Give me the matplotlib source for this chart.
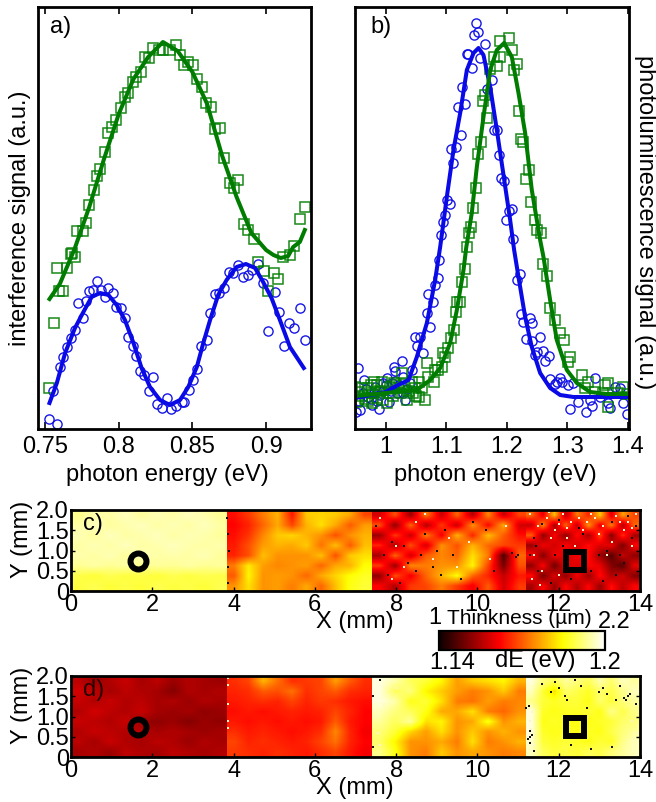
import numpy as np
import matplotlib
matplotlib.use('Agg')
import matplotlib.pyplot as plt
from matplotlib.cm import ScalarMappable
from matplotlib.colors import Normalize

plt.rcParams['font.family'] = ['Liberation Sans', 'DejaVu Sans']
FS = 17

# panel a, green squares
a_sq_x = [.7529,.7584,.7561,.7597,.7624,.7649,.7674,.7681,.7706,.7719,.7755,.7775,.7798,.783,.7852,.7875,.7907,
          .7925,.7957,.7982,.8013,.8043,.8065,.8094,.8116,.815,.8177,.8207,.823,.8275,.8302,.8348,.8388,.8415,
          .8442,.8472,.8501,.8533,.8562,.8592,.8625,.8652,.8686,.8714,.8754,.8781,.881,.8851,.8879,.8919,.8947,
          .8987,.9014,.9055,.9084,.9116,.9161,.9188,.9227,.9263]
a_sq_y = [41,161,106,138,138,161,175,176,172,198,198,206,224,239,253,260,277,296,302,309,321,332,336,347,352,357,
          372,371,381,379,379,379,384,374,364,367,364,350,342,326,322,300,301,271,246,241,249,205,199,190,167,
          158,138,156,150,172,174,183,210,222]
a_green_x = [.753,.76,.77,.78,.79,.80,.81,.82,.83,.84,.85,.86,.87,.88,.89,.90,.905,.91,.915,.9184,.9229,.9263]
a_green_y = [130,145,180,222,270,315,350,372,387,378,357,325,274,232,196,179,174,171,173,182,187,199]

# panel a, blue circles
a_ci_x = [.7529,.7584,.7557,.7602,.7624,.7651,.7679,.7703,.7726,.7758,.7778,.78,.7828,.7853,.788,.7906,.7929,.7961,
          .7984,.8015,.8042,.8063,.8094,.8115,.8146,.8174,.8207,.8234,.8262,.8291,.8325,.8352,.8386,.8427,.8445,
          .8476,.8501,.8533,.8558,.8596,.8619,.8653,.8678,.8714,.875,.8777,.8809,.8845,.8879,.8906,.8947,.898,
          .9014,.9059,.9089,.912,.9157,.9188,.9227,.9263]
a_ci_y = [10,5,38,62,72,82,91,99,126,111,128,138,139,148,139,132,141,136,122,121,111,92,83,73,58,54,38,52,25,21,31,
          20,23,27,27,39,49,60,83,89,116,135,136,141,157,156,164,152,154,159,165,146,98,137,117,83,106,101,121,89]
a_blue_x = [.753,.758,.7636,.7703,.776,.7816,.7873,.793,.7986,.8042,.81,.8155,.8212,.828,.8348,.8416,.8472,.853,
            .8574,.862,.8675,.8732,.88,.8863,.8925,.898,.9037,.9094,.9162,.9256]
a_blue_y = [26,46,76,101,117,132,136,134,124,109,86,61,42,29,24,29,42,62,86,109,134,149,162,165,161,147,131,109,82,61]

# panel b, blue circles
b_ci_x = [1.1488,1.1526,1.1455,1.1636,1.1339,1.1366,1.1559,1.1427,1.1747,1.1267,1.1669,1.131,1.1185,1.124,1.178,
          1.1835,1.1085,1.1163,1.1118,1.1873,1.1906,1.195,1.1008,1.1063,1.0981,1.0937,1.0915,1.2083,1.2028,1.1983,
          1.211,1.0876,1.086,1.0815,1.0705,1.0777,1.0678,1.0733,1.049,1.0568,1.0512,1.0612,1.0264,1.0127,1.0154,
          .9532,.9642,1.0017,1.01,1.043,1.029,.9961,.9824,.9713,.9576,.951,.9769,.989,1.0044,.9906,1.018,1.032,
          1.2165,1.222,1.2237,1.2275,1.2386,1.2413,1.2551,1.232,1.2413,1.2507,1.2468,1.259,1.27,1.2623,1.2716,
          1.2799,1.2882,1.2909,1.2837,1.3008,1.3047,1.3102,1.3185,1.3311,1.3416,1.346,1.3377,1.3543,1.368,1.3791,
          1.3873,1.3928,1.3983,1.3708,
          .955,.962,.968,.975,.98,.985,.995,1.0,1.008,1.015,1.022,1.028,1.035,1.04]
b_ci_y = [406,397,394,385,375,375,371,361,349,342,340,325,322,294,299,299,280,282,266,274,251,248,229,225,214,207,
          194,220,218,209,190,169,151,144,135,127,116,102,92,92,83,76,68,62,58,61,49,51,46,59,52,46,42,32,19,17,24,
          20,27,34,36,29,149,155,115,107,111,106,92,90,88,77,74,78,73,68,50,45,51,47,47,44,20,46,27,17,23,51,29,32,
          26,42,41,26,15,21,
          28,36,40,30,36,28,38,44,38,48,44,36,40,46]
b_blue_x = [.95,1.0,1.02,1.0375,1.0512,1.0678,1.0815,1.0898,1.1008,1.1118,1.1229,1.1339,1.145,1.1532,1.1614,1.1725,
            1.1835,1.195,1.2055,1.2121,1.2193,1.2303,1.2413,1.2551,1.2716,1.2882,1.3102,1.35,1.4]
b_blue_y = [31,37,44,49,72,106,149,182,232,279,316,359,376,381,374,342,299,252,209,179,152,112,82,56,41,34,32,32,32]

# panel b, green squares
b_sq_x = [1.2039,1.1879,1.2088,1.178,1.1884,1.1835,1.2165,1.2121,1.1725,1.1642,1.1598,1.2204,1.1675,1.2231,1.2275,
          1.1565,1.1526,1.2369,1.232,1.1488,1.2397,1.1449,1.2463,1.141,1.2496,1.2557,1.1377,1.1339,1.1311,1.1267,
          1.1218,1.1174,1.1157,1.1119,1.108,1.1025,1.0953,1.098,1.0925,1.0815,1.087,1.0678,1.0788,1.0705,1.065,
          1.0556,1.054,1.0347,1.0264,1.0127,.9796,.9933,.9495,.951,.9604,.9713,.9769,.9851,1.0017,1.0072,1.0209,
          1.043,1.0485,1.0595,1.2606,1.2661,1.2716,1.2799,1.2882,1.2948,1.3047,1.3008,1.324,1.335,1.3295,1.346,
          1.3625,1.368,1.3669,1.3928,1.3994,1.3846,1.3598,
          .955,.965,.975,.98,.99,.995,1.005,1.012,1.017,1.025,1.03,1.038,1.045,1.05,.96,.985,.97]
b_sq_y = [391,388,379,372,372,363,365,359,360,334,328,318,311,290,287,287,275,259,250,241,227,221,209,202,199,196,
          196,182,160,147,127,127,117,99,91,81,76,72,62,59,59,66,47,52,29,32,47,29,56,46,47,47,42,27,41,41,26,31,26,
          42,41,47,41,41,165,153,121,109,96,89,72,67,54,47,41,37,44,46,22,42,35,36,36,
          37,30,44,36,38,29,36,33,44,36,45,38,36,33,33,44,28]
b_green_x = [.95,1.0,1.0512,1.0733,1.0898,1.1063,1.1174,1.1284,1.1328,1.1421,1.1504,1.1614,1.1725,1.1835,1.1956,
             1.2083,1.2193,1.2303,1.2413,1.2551,1.2606,1.2716,1.2826,1.2992,1.3157,1.3377,1.3653,1.4]
b_green_y = [33,36,39,49,61,86,119,159,181,216,262,312,359,379,386,372,336,296,239,189,172,129,89,59,46,37,35,35]

seg_bounds = [0, 3.85, 7.4, 11.2, 14]

# panel c thickness (um), rows from top to bottom
c_seg1 = [[2.06,2.10,2.09,2.12,2.08,2.11,2.09,2.12,2.10,2.07],
          [2.09,2.12,2.08,2.10,2.12,2.09,2.11,2.09,2.12,2.09],
          [2.11,2.08,2.12,2.09,2.10,2.12,2.09,2.11,2.10,2.08],
          [2.09,2.11,2.09,2.12,2.09,2.10,2.12,2.10,2.09,2.10],
          [2.10,2.09,2.11,2.08,2.11,2.09,2.10,2.09,2.11,2.08],
          [2.07,2.09,2.07,2.09,2.06,2.08,2.07,2.09,2.07,2.08],
          [1.98,1.96,1.99,1.97,1.98,1.96,1.99,1.97,1.99,1.98],
          [1.97,1.99,1.96,1.98,1.96,1.99,1.97,1.98,1.96,1.99]]
c_seg2 = [[1.46,1.54,1.66,1.76,1.48,1.80,1.82,1.80,1.74,1.56],
          [1.44,1.50,1.62,1.74,1.56,1.76,1.84,1.74,1.60,1.72],
          [1.46,1.53,1.68,1.80,1.82,1.76,1.70,1.58,1.70,1.76],
          [1.48,1.58,1.72,1.76,1.74,1.80,1.64,1.78,1.60,1.78],
          [1.50,1.58,1.78,1.70,1.70,1.70,1.78,1.58,1.80,1.84],
          [1.66,1.86,1.72,1.68,1.70,1.72,1.62,1.74,1.76,1.90],
          [1.60,1.88,1.70,1.72,1.70,1.62,1.74,1.82,1.90,1.94],
          [1.70,1.84,1.70,1.72,1.66,1.74,1.62,1.78,1.92,1.96]]
c_seg3 = [[1.36,1.58,1.26,1.66,1.34,1.62,1.30,1.68,1.34,1.56],
          [1.58,1.24,1.62,1.30,1.54,1.34,1.70,1.44,1.74,1.36],
          [1.26,1.54,1.34,1.66,1.42,1.76,1.50,1.78,1.60,1.46],
          [1.50,1.30,1.58,1.36,1.70,1.58,1.76,1.62,1.56,1.54],
          [1.28,1.62,1.36,1.60,1.68,1.62,1.84,1.66,1.12,1.62],
          [1.54,1.26,1.68,1.66,1.70,1.70,1.88,1.56,1.20,1.58],
          [1.24,1.58,1.42,1.62,1.76,1.90,1.62,1.50,1.34,1.48],
          [1.44,1.30,1.54,1.56,1.66,1.54,1.42,1.60,1.36,1.54]]
c_seg4 = [[1.62,1.40,1.78,1.32,1.66,1.50,1.80,1.38,1.72,1.56],
          [1.34,1.68,1.28,1.62,1.34,1.70,1.40,1.66,1.30,1.62],
          [1.60,1.24,1.44,1.24,1.46,1.28,1.56,1.22,1.52,1.28],
          [1.26,1.42,1.36,1.44,1.36,1.46,1.38,1.40,1.20,1.44],
          [1.46,1.22,1.42,1.38,1.42,1.46,1.26,1.14,1.34,1.24],
          [1.24,1.44,1.18,1.40,1.38,1.44,1.40,1.22,1.14,1.40],
          [1.46,1.20,1.38,1.24,1.42,1.26,1.46,1.30,1.36,1.22],
          [1.28,1.44,1.26,1.44,1.30,1.44,1.26,1.46,1.32,1.44]]

# panel d band gap (eV), rows from top to bottom
d_seg1 = [[1.156,1.153,1.155,1.157,1.154,1.156,1.153,1.155,1.154,1.153],
          [1.158,1.156,1.154,1.156,1.155,1.154,1.151,1.155,1.154,1.155],
          [1.157,1.155,1.157,1.155,1.156,1.154,1.155,1.153,1.155,1.154],
          [1.155,1.158,1.156,1.155,1.157,1.154,1.153,1.154,1.152,1.153],
          [1.157,1.156,1.155,1.157,1.153,1.152,1.153,1.151,1.153,1.152],
          [1.155,1.157,1.156,1.155,1.156,1.154,1.155,1.154,1.153,1.154],
          [1.156,1.154,1.157,1.155,1.154,1.156,1.155,1.153,1.155,1.154],
          [1.154,1.155,1.153,1.156,1.155,1.154,1.156,1.155,1.154,1.155]]
d_seg2 = [[1.166,1.168,1.178,1.172,1.166,1.167,1.168,1.176,1.170,1.166],
          [1.165,1.166,1.170,1.169,1.172,1.166,1.168,1.170,1.166,1.165],
          [1.164,1.165,1.166,1.165,1.168,1.165,1.167,1.166,1.164,1.163],
          [1.163,1.164,1.163,1.164,1.165,1.164,1.165,1.168,1.165,1.162],
          [1.164,1.163,1.164,1.163,1.164,1.163,1.164,1.170,1.164,1.162],
          [1.166,1.164,1.165,1.164,1.163,1.164,1.166,1.174,1.165,1.161],
          [1.168,1.165,1.166,1.165,1.164,1.165,1.168,1.172,1.165,1.162],
          [1.167,1.166,1.165,1.166,1.165,1.164,1.166,1.168,1.164,1.161]]
d_seg3 = [[1.198,1.195,1.190,1.188,1.184,1.176,1.180,1.182,1.184,1.178],
          [1.198,1.190,1.192,1.184,1.180,1.176,1.173,1.175,1.180,1.173],
          [1.198,1.195,1.186,1.188,1.182,1.173,1.172,1.176,1.173,1.174],
          [1.196,1.192,1.190,1.186,1.177,1.177,1.182,1.173,1.171,1.175],
          [1.194,1.190,1.194,1.182,1.184,1.175,1.177,1.186,1.175,1.178],
          [1.192,1.188,1.181,1.176,1.182,1.175,1.180,1.175,1.178,1.175],
          [1.191,1.184,1.175,1.175,1.177,1.173,1.182,1.173,1.175,1.178],
          [1.193,1.186,1.175,1.173,1.180,1.175,1.177,1.175,1.173,1.174]]
d_seg4 = [[1.198,1.192,1.190,1.194,1.192,1.190,1.195,1.191,1.196,1.194],
          [1.196,1.188,1.182,1.191,1.189,1.187,1.191,1.189,1.193,1.196],
          [1.193,1.188,1.187,1.188,1.188,1.186,1.191,1.188,1.192,1.194],
          [1.198,1.187,1.186,1.187,1.187,1.188,1.186,1.193,1.189,1.193],
          [1.198,1.186,1.187,1.186,1.186,1.186,1.187,1.188,1.191,1.192],
          [1.198,1.187,1.186,1.187,1.186,1.187,1.186,1.189,1.192,1.194],
          [1.197,1.188,1.187,1.188,1.187,1.186,1.188,1.187,1.193,1.196],
          [1.196,1.190,1.188,1.189,1.188,1.190,1.189,1.192,1.194,1.196]]

# flecks seen on top of the maps
c_dark_x = [3.85,3.87,3.88,3.86,3.87,7.5,7.9,8.3,8.7,9.1,9.4,8.1,8.6,9.2,9.9,10.4,10.85,10.95,11.0,11.5,11.9,12.3,
            12.8,13.2,13.6,11.4,11.8,12.1,13.0,13.4,13.8,8.9,9.6,7.7,10.2,11.3,12.6,13.1,13.5,11.6,12.0,12.5,13.3,
            13.7,11.45,12.9,13.9,8.2,8.5,9.0,7.8]
c_dark_y = [1.8,1.4,1.0,0.6,0.2,1.6,1.2,0.7,1.4,0.4,0.9,0.2,0.9,1.5,1.7,0.5,0.95,0.85,0.9,0.5,0.9,0.3,0.5,1.0,0.7,1.3,
            0.2,1.1,0.9,0.4,1.3,0.6,0.3,0.9,1.5,0.9,1.4,0.25,0.9,1.65,1.75,1.55,1.7,1.85,1.1,1.8,1.6,1.1,0.5,1.0,0.4]
c_light_x = [7.6,8.0,8.5,8.9,9.3,9.8,10.3,10.7,11.3,11.5,11.7,11.9,12.1,12.3,12.5,12.8,13.1,13.4,13.7,13.9,11.4,11.8,
             12.2,12.6,13.0,13.3,13.6,11.6,12.0,12.4,13.2,13.8,11.35,11.55,11.75,12.0,12.2,12.7,12.9,13.5,13.8,8.2,
             9.5,7.9,8.7]
c_light_y = [1.8,1.1,1.7,0.8,1.3,1.2,0.8,1.6,1.9,1.6,1.8,1.5,1.9,1.7,1.8,1.9,1.6,1.85,1.7,1.9,0.9,1.3,1.3,1.5,1.4,
             1.2,1.5,0.5,0.4,1.1,0.9,1.1,0.3,0.15,1.95,1.65,1.55,1.7,1.8,1.7,1.55,0.6,0.6,0.3,1.9]
d_dark_x = [7.42,7.43,7.6,11.2,11.25,11.3,11.35,11.4,11.6,11.8,12.0,12.2,12.4,12.7,13.0,13.1,13.2,13.4,13.6,13.7,
            13.9,12.3,12.8,13.3,13.5,11.3,11.28,11.3,13.65,13.75,11.9,12.15,12.55]
d_dark_y = [1.5,0.25,1.9,1.2,0.45,0.35,0.55,0.15,1.8,1.6,1.7,1.4,1.9,1.2,1.6,1.7,1.55,1.4,1.45,1.5,1.3,0.3,0.2,0.25,
            1.75,0.65,1.25,0.5,1.4,1.55,1.85,1.5,1.75]
d_light_x = [3.87,3.87,3.87,3.87,3.87,7.5,7.7,8.0,7.55,7.6,11.3,11.32,11.35,11.38,13.8,13.9]
d_light_y = [1.95,1.77,1.32,0.88,0.72,1.0,1.3,1.7,0.6,0.3,0.9,0.7,1.1,0.3,0.9,0.6]

blue = '#0a0ae6'
green = '#007d00'
W, H = 656.0, 802.0


def px_axes(fig, left, top, right, bottom):
    return fig.add_axes([left/W, 1-bottom/H, (right-left)/W, (bottom-top)/H])


def style_spines(ax, lw=2.0):
    for s in ax.spines.values():
        s.set_linewidth(lw)


def draw_curves(ax, sq_x, sq_y, gx, gy, ci_x, ci_y, bx, by):
    ax.plot(ci_x, ci_y, 'o', mfc='none', mec=blue, ms=6.6, mew=1.0, alpha=0.95)
    ax.plot(sq_x, sq_y, 's', mfc='none', mec=green, ms=6.6, mew=1.1, alpha=0.9)
    ax.plot(bx, by, '-', color=blue, lw=2.9)
    ax.plot(gx, gy, '-', color=green, lw=2.9)
    ax.set_ylim(0, 422)
    ax.set_yticks([])
    ax.tick_params(axis='x', which='both', top=True, bottom=True, direction='in', length=5,
                   width=1.2, pad=5, labelsize=FS)
    style_spines(ax)


def draw_map(ax, segs, norm, dark, light):
    for i, seg in enumerate(segs):
        ax.imshow(np.array(seg), extent=[seg_bounds[i], seg_bounds[i+1], 0, 2], aspect='auto', cmap='hot',
                  norm=norm, interpolation='bilinear', origin='upper')
    ax.plot(dark[0], dark[1], 's', color='#111111', ms=2.0, mew=0)
    ax.plot(light[0], light[1], 's', color='#fff4d0', ms=2.0, mew=0)
    ax.plot([1.65], [0.75], 'o', mfc='none', mec='k', ms=11.5, mew=4.3)
    ax.plot([12.4], [0.75], 's', mfc='none', mec='k', ms=13.2, mew=4.3)
    ax.set_xlim(0, 14)
    ax.set_ylim(0, 2)
    ax.set_xticks(range(0, 15, 2))
    ax.set_yticks([0, 0.5, 1.0, 1.5, 2.0])
    ax.set_yticklabels(['0', '0.5', '1.0', '1.5', '2.0'])
    ax.tick_params(axis='both', right=True, direction='in', length=3, width=1.0, labelsize=FS)
    ax.tick_params(axis='x', pad=2.5)
    ax.tick_params(axis='y', pad=1.5)
    style_spines(ax)


fig = plt.figure(figsize=(W/100, H/100), dpi=100)

ax_a = px_axes(fig, 38, 7, 311, 429)
draw_curves(ax_a, a_sq_x, a_sq_y, a_green_x, a_green_y, a_ci_x, a_ci_y, a_blue_x, a_blue_y)
ax_a.set_xlim(0.7452, 0.9305)
ax_a.set_xticks([0.75, 0.8, 0.85, 0.9])
ax_a.set_xticklabels(['0.75', '0.8', '0.85', '0.9'])
fig.text(50/W, 1-27/H, 'a)', va='center', fontsize=FS)

ax_b = px_axes(fig, 355, 7, 629, 429)
draw_curves(ax_b, b_sq_x, b_sq_y, b_green_x, b_green_y, b_ci_x, b_ci_y, b_blue_x, b_blue_y)
ax_b.set_xlim(0.949, 1.402)
ax_b.set_xticks([1, 1.1, 1.2, 1.3, 1.4])
ax_b.set_xticklabels(['1', '1.1', '1.2', '1.3', '1.4'])
fig.text(370/W, 1-27/H, 'b)', va='center', fontsize=FS)

fig.text(20/W, 1-218/H, 'interference signal (a.u.)', rotation=90, ha='center', va='center', fontsize=FS)
fig.text(645/W, 1-222/H, 'photoluminescence signal (a.u.)', rotation=270, ha='center', va='center', fontsize=FS)
fig.text(167/W, 1-475/H, 'photon energy (eV)', ha='center', va='center', fontsize=FS)
fig.text(495/W, 1-475/H, 'photon energy (eV)', ha='center', va='center', fontsize=FS)

norm_c = Normalize(1, 2.2)
norm_d = Normalize(1.14, 1.2)

ax_c = px_axes(fig, 71, 510, 640, 591)
draw_map(ax_c, [c_seg1, c_seg2, c_seg3, c_seg4], norm_c, (c_dark_x, c_dark_y), (c_light_x, c_light_y))
fig.text(83/W, 1-524/H, 'c)', va='center', fontsize=FS)

ax_d = px_axes(fig, 71, 676, 640, 757)
draw_map(ax_d, [d_seg1, d_seg2, d_seg3, d_seg4], norm_d, (d_dark_x, d_dark_y), (d_light_x, d_light_y))
fig.text(83/W, 1-690/H, 'd)', va='center', fontsize=FS, color='#2a0000')

for yc in (539, 705):
    fig.text(22/W, 1-yc/H, 'Y (mm)', rotation=90, ha='center', va='center', fontsize=FS)
fig.text(355/W, 1-622/H, 'X (mm)', ha='center', va='center', fontsize=FS)
fig.text(355/W, 1-788/H, 'X (mm)', ha='center', va='center', fontsize=FS)

cax = px_axes(fig, 439, 631, 605, 650)
cb = fig.colorbar(ScalarMappable(norm=norm_c, cmap='hot'), cax=cax, orientation='horizontal')
cb.set_ticks([])
cb.outline.set_linewidth(1.6)

fig.text(435/W, 1-618/H, '1', ha='center', va='center', fontsize=FS)
fig.text(519/W, 1-618/H, 'Thinkness (µm)', ha='center', va='center', fontsize=15)
fig.text(614/W, 1-622/H, '2.2', ha='center', va='center', fontsize=FS)
fig.text(452/W, 1-663/H, '1.14', ha='center', va='center', fontsize=FS)
fig.text(535/W, 1-661/H, 'dE (eV)', ha='center', va='center', fontsize=FS)
fig.text(605/W, 1-663/H, '1.2', ha='center', va='center', fontsize=FS)

fig.savefig('out.png', dpi=100)
